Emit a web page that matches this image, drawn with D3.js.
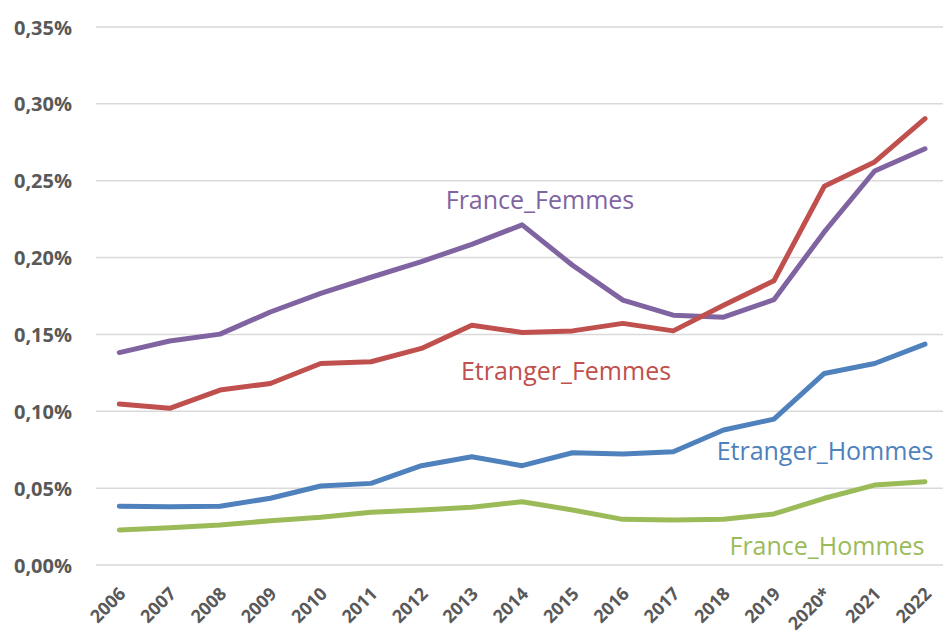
<!DOCTYPE html>
<html><head><meta charset="utf-8">
<script src="https://cdn.jsdelivr.net/npm/d3@7"></script>
<style>html,body{margin:0;padding:0;background:#fff;}svg{display:block;}</style>
</head><body>
<svg id="chart" width="943" height="631"></svg>
<script>
const years = ["2006","2007","2008","2009","2010","2011","2012","2013","2014","2015","2016","2017","2018","2019","2020*","2021","2022"];
const franceFemmes   = [0.1382,0.1457,0.1502,0.1646,0.1767,0.1872,0.1974,0.2086,0.2213,0.1950,0.1723,0.1625,0.1612,0.1726,0.2167,0.2563,0.2708];
const etrangerFemmes = [0.1047,0.1019,0.1138,0.1181,0.1311,0.1322,0.1409,0.1560,0.1513,0.1523,0.1572,0.1523,0.1690,0.1849,0.2464,0.2622,0.2904];
const etrangerHommes = [0.0382,0.0379,0.0382,0.0434,0.0514,0.0531,0.0646,0.0704,0.0646,0.0730,0.0722,0.0737,0.0878,0.0949,0.1246,0.1311,0.1437];
const franceHommes   = [0.0228,0.0243,0.0260,0.0288,0.0310,0.0343,0.0358,0.0375,0.0412,0.0358,0.0297,0.0293,0.0297,0.0332,0.0434,0.0520,0.0542];
const yTicks = [0,0.05,0.10,0.15,0.20,0.25,0.30,0.35];
const seriesNames = ["France_Femmes","Etranger_Femmes","Etranger_Hommes","France_Hommes"];

const series = [
  {name:seriesNames[0], values:franceFemmes, color:"#8064A2", lx:540, ly:200},
  {name:seriesNames[1], values:etrangerFemmes, color:"#C0504D", lx:566, ly:371},
  {name:seriesNames[2], values:etrangerHommes, color:"#4F81BD", lx:825, ly:451},
  {name:seriesNames[3], values:franceHommes, color:"#9BBB59", lx:827, ly:546}
];

const svg = d3.select("#chart");
const x = d3.scalePoint().domain(years).range([119.3, 925]);
const y = d3.scaleLinear().domain([0, 0.35]).range([565, 27]);

// gridlines
svg.append("g").selectAll("line").data(yTicks).join("line")
  .attr("x1",96).attr("x2",943).attr("y1",d=>y(d)).attr("y2",d=>y(d))
  .attr("stroke","#D9D9D9").attr("stroke-width",1.5);

const yAxis = d3.axisLeft(y).tickValues(yTicks).tickSize(0).tickPadding(0)
  .tickFormat(d => d3.format(".2f")(d).replace(".", ",") + "%");
const gy = svg.append("g").attr("transform","translate(72,0)").call(yAxis);
gy.select(".domain").remove();
gy.selectAll("text").attr("font-family","'Open Sans', sans-serif").attr("font-weight","bold")
  .attr("font-size","20px").attr("fill","#595959").attr("dy","0.35em");

// x axis labels
const xAxis = d3.axisBottom(x).tickSize(0).tickPadding(0);
const gx = svg.append("g").attr("transform","translate(0,565)").call(xAxis);
gx.select(".domain").remove();
gx.selectAll("text")
  .attr("font-family","'Open Sans', sans-serif").attr("font-weight","bold")
  .attr("font-size","18px").attr("fill","#595959")
  .attr("text-anchor","end").attr("dy",null).attr("y",0)
  .attr("transform","translate(7,30) rotate(-45)");

// lines
const line = d3.line().x((d,i)=>x(years[i])).y(d=>y(d));
svg.append("g").selectAll("path").data(series).join("path")
  .attr("d", d=>line(d.values)).attr("fill","none").attr("stroke",d=>d.color)
  .attr("stroke-width",5).attr("stroke-linejoin","round").attr("stroke-linecap","round");

// labels
svg.append("g").selectAll("text").data(series).join("text")
  .attr("x",d=>d.lx).attr("y",d=>d.ly).attr("dy","0.35em").attr("text-anchor","middle")
  .attr("font-family","'Open Sans', sans-serif").attr("font-size","25px")
  .attr("fill",d=>d.color).text(d=>d.name);
</script>
</body></html>
